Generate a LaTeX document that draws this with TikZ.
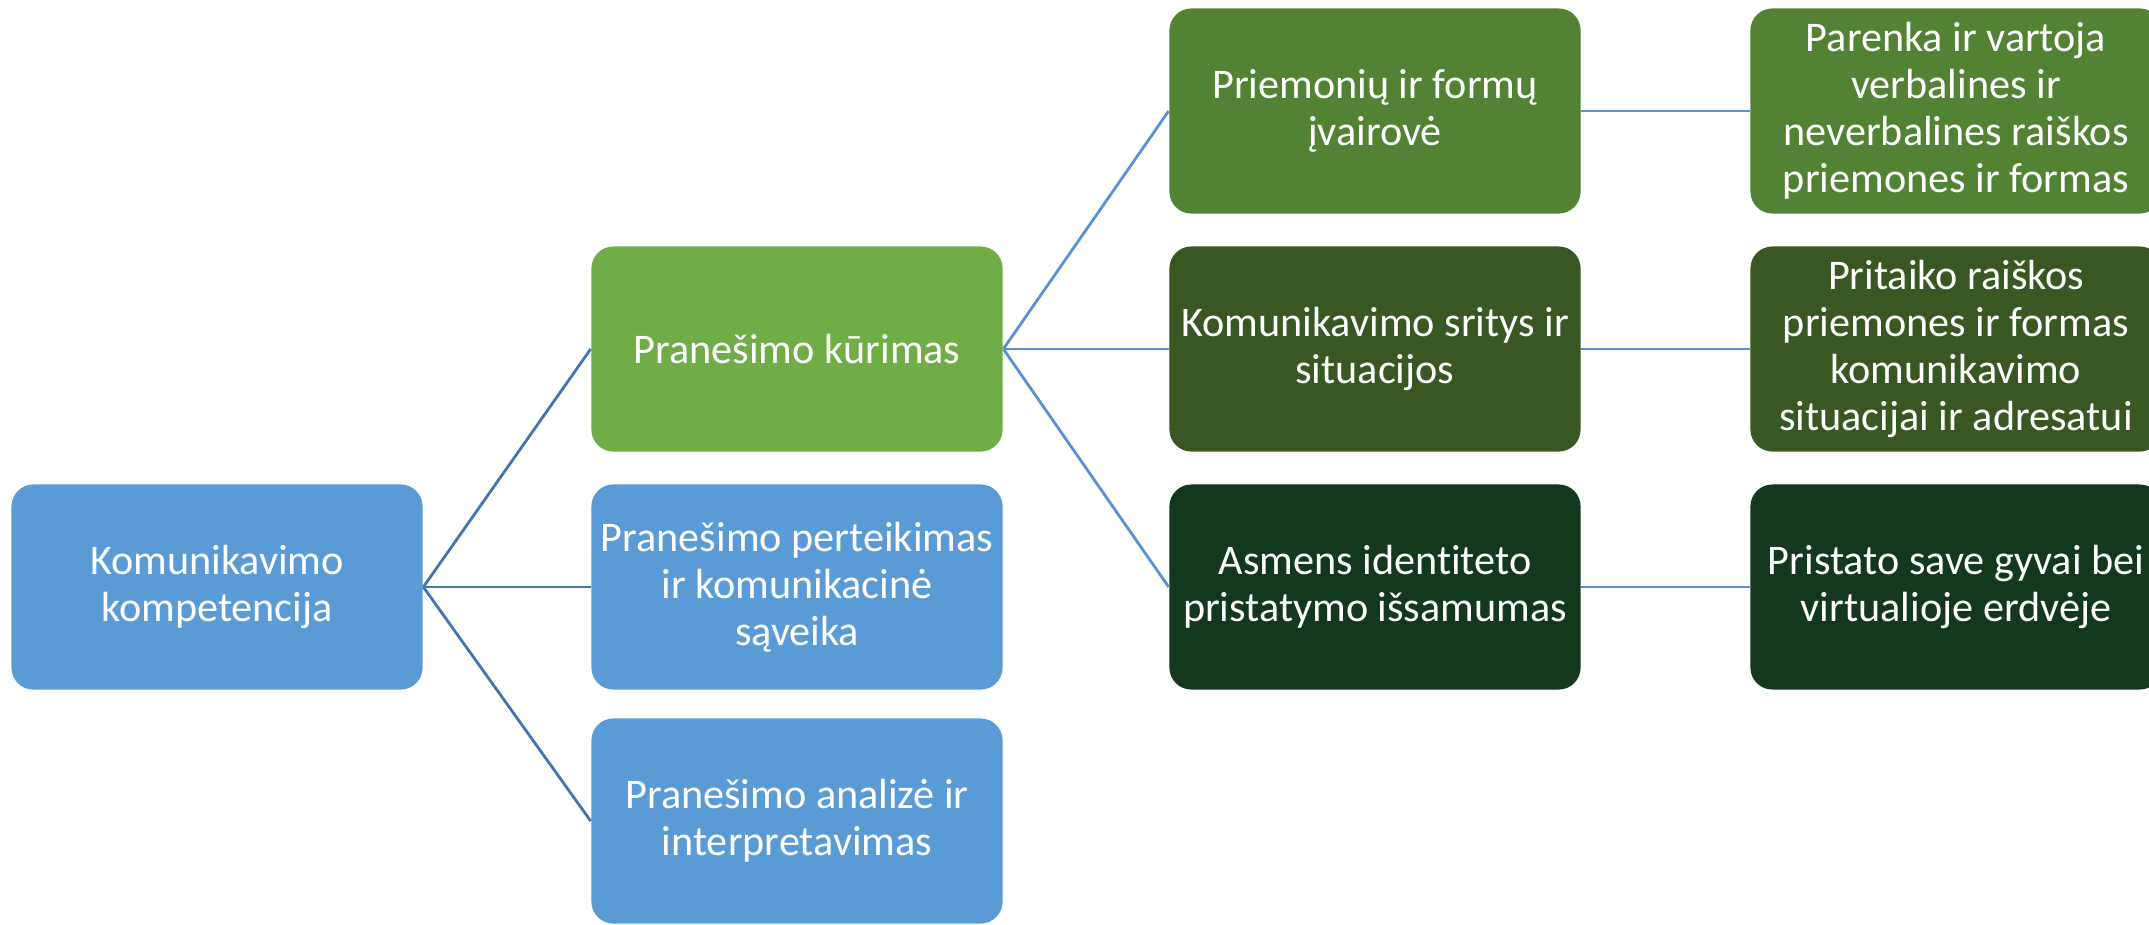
\documentclass[tikz,border=0pt]{standalone}
\usepackage{fontspec}
\setmainfont{Carlito}[Ligatures=NoCommon]

\definecolor{cor_azul}{HTML}{5B9BD5}
\definecolor{cor_verde}{HTML}{70AD47}
\definecolor{cor_verde2}{HTML}{548235}
\definecolor{cor_verde3}{HTML}{385723}
\definecolor{cor_verde4}{RGB}{20,56,30}
\definecolor{linha1}{RGB}{70,116,172}
\definecolor{linha2}{RGB}{91,145,208}

\begin{document}
\begin{tikzpicture}[x=0.01cm, y=-0.01cm]
        \tikzset{
            caixa/.style={
                fill=#1,
                draw=none,
                rounded corners=0.22cm,
                text=white,
                align=center,
                inner sep=1pt,
                font=\fontsize{12}{13.4}\selectfont,
                minimum width=4.11cm,
                minimum height=2.05cm
            },
            lig/.style={
                draw=#1,
                line width=0.8pt
            }
        }
        \useasboundingbox (0,0) rectangle (2149,924);

        %raiz
        \node[caixa=cor_azul] (komp) at (217,587) {Komunikavimo\\kompetencija};

        %1
        \node[caixa=cor_verde] (kurimas) at (797,349) {Pranešimo kūrimas};
        \node[caixa=cor_azul] (perteikimas) at (797,587) {Pranešimo perteikimas\\ir komunikacinė\\sąveika};
        \node[caixa=cor_azul] (analize) at (797,821) {Pranešimo analizė ir\\interpretavimas};

        %2
        \node[caixa=cor_verde2] (priemones) at (1375,111) {Priemonių ir formų\\įvairovė};
        \node[caixa=cor_verde3] (sritys) at (1375,349) {Komunikavimo sritys ir\\situacijos};
        \node[caixa=cor_verde4] (asmens) at (1375,587) {Asmens identiteto\\pristatymo išsamumas};

        %3
        \node[caixa=cor_verde2] (parenka) at (1956,111) {Parenka ir vartoja\\verbalines ir\\neverbalines raiškos\\priemones ir formas};
        \node[caixa=cor_verde3] (pritaiko) at (1956,349) {Pritaiko raiškos\\priemones ir formas\\komunikavimo\\situacijai ir adresatui};
        \node[caixa=cor_verde4] (pristato) at (1956,587) {Pristato save gyvai bei\\virtualioje erdvėje};

        %ligacoes
        \draw[lig=linha1] (komp.east) -- (kurimas.west);
        \draw[lig=linha1] (komp.east) -- (perteikimas.west);
        \draw[lig=linha1] (komp.east) -- (analize.west);

        \draw[lig=linha2] (kurimas.east) -- (priemones.west);
        \draw[lig=linha2] (kurimas.east) -- (sritys.west);
        \draw[lig=linha2] (kurimas.east) -- (asmens.west);

        \draw[lig=linha2] (priemones.east) -- (parenka.west);
        \draw[lig=linha2] (sritys.east) -- (pritaiko.west);
        \draw[lig=linha2] (asmens.east) -- (pristato.west);

    \end{tikzpicture}
\end{document}
